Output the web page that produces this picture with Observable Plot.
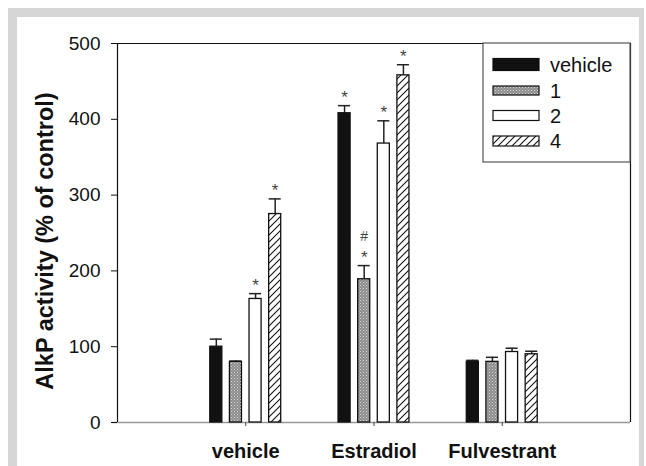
<!DOCTYPE html>
<html>
<head>
<meta charset="utf-8">
<script src="https://cdn.jsdelivr.net/npm/d3@7"></script>
<script src="https://cdn.jsdelivr.net/npm/@observablehq/plot@0.6"></script>
<style>
  html, body { margin: 0; padding: 0; background: white; }
  #wrap { position: relative; width: 646px; height: 466px; overflow: hidden; background: white; }
  #border { position: absolute; left: 8px; top: 8px; width: 622px; height: 470px;
            border-left: 9px solid #d6d6d6; border-top: 9px solid #d6d6d6; border-right: 5px solid #d6d6d6; }
  #chart { position: absolute; left: 0; top: 0; }
</style>
</head>
<body>
<div id="wrap"><div id="border"></div><div id="chart"></div></div>
<script>
const groups = ["vehicle", "Estradiol", "Fulvestrant"];
const series = ["vehicle", "1", "2", "4"];
const vehicleMeans = [100, 408, 80];
const s1Means = [80, 189, 80];
const s2Means = [163, 368, 93];
const s4Means = [275, 458, 90];
const vehicleErr = [10, 10, 2];
const s1Err = [1, 18, 6];
const s2Err = [7, 30, 5];
const s4Err = [20, 14, 4];
const vehicleStar = [false, true, false];
const s1Star = [false, true, false];
const s2Star = [true, true, false];
const s4Star = [true, true, false];
const s1Hash = [false, true, false];
const yTicks = [0, 100, 200, 300, 400, 500];
const yLabel = "AlkP activity (% of control)";

const means = [vehicleMeans, s1Means, s2Means, s4Means];
const errs = [vehicleErr, s1Err, s2Err, s4Err];
const stars = [vehicleStar, s1Star, s2Star, s4Star];
const hashes = [[false,false,false], s1Hash, [false,false,false], [false,false,false]];

const step = 0.153, hw = 0.047;
const data = [];
series.forEach((s, si) => groups.forEach((g, gi) => {
  const c = gi + 1 + (si - 1.5) * step;
  data.push({series: s, group: g, c, mean: means[si][gi], err: errs[si][gi],
             star: stars[si][gi], hash: hashes[si][gi]});
}));

const fills = ["#111", "url(#dots)", "white", "url(#hatch)"];

const plot = Plot.plot({
  width: 646, height: 466,
  marginLeft: 117, marginRight: 16, marginTop: 43, marginBottom: 44,
  style: {fontFamily: "'Liberation Sans', Arial, sans-serif", background: "transparent", color: "#111"},
  x: {domain: [0, 4], axis: null},
  y: {domain: [0, 500], axis: null},
  color: {domain: series, range: fills},
  marks: [
    Plot.ruleY([0], {stroke: "#999", strokeWidth: 1.5, insetLeft: -5}),
    Plot.ruleY([500], {stroke: "#111", strokeWidth: 1.2}),
    Plot.ruleX([0], {stroke: "#111", strokeWidth: 1.2}),
    Plot.ruleX([4], {stroke: "#111", strokeWidth: 1.2}),
    Plot.axisY({ticks: yTicks, tickSize: 6, tickPadding: 11, fontSize: 19, label: null, stroke: "#111"}),
    Plot.axisX({ticks: [1, 2, 3], tickFormat: d => groups[d - 1], tickSize: 4, tickPadding: 17,
                fontSize: 20, fontWeight: "bold", label: null, stroke: "#444"}),
    Plot.ruleX(data, {x: "c", y1: "mean", y2: d => d.mean + d.err, stroke: "#222", strokeWidth: 1.5}),
    Plot.ruleY(data, {y: d => d.mean + d.err, x1: d => d.c - hw, x2: d => d.c + hw, stroke: "#222", strokeWidth: 1.5}),
    Plot.rectY(data, {x1: d => d.c - hw, x2: d => d.c + hw, y1: 0, y2: "mean", fill: "series",
                      stroke: "#111", strokeWidth: 1.3}),
    Plot.text(data.filter(d => d.star), {x: "c", y: d => d.mean + d.err, text: () => "*",
              lineAnchor: "bottom", dy: -3, fontSize: 17, fill: "#444"}),
    Plot.text(data.filter(d => d.hash), {x: "c", y: d => d.mean + d.err, text: () => "#",
              lineAnchor: "bottom", dy: -25, fontSize: 14, fill: "#444"})
  ]
});

const svg = d3.select(plot);
const defs = svg.insert("defs", ":first-child");
const dots = defs.append("pattern").attr("id", "dots").attr("patternUnits", "userSpaceOnUse")
  .attr("width", 3).attr("height", 3);
dots.append("rect").attr("width", 3).attr("height", 3).attr("fill", "#8c8c8c");
dots.append("rect").attr("x", 0).attr("y", 0).attr("width", 1).attr("height", 1).attr("fill", "#d8d8d8");
dots.append("rect").attr("x", 1.5).attr("y", 1.5).attr("width", 1).attr("height", 1).attr("fill", "#c8c8c8");
const hatch = defs.append("pattern").attr("id", "hatch").attr("patternUnits", "userSpaceOnUse")
  .attr("width", 7).attr("height", 7);
hatch.append("rect").attr("width", 7).attr("height", 7).attr("fill", "white");
hatch.append("path").attr("d", "M-1,8 L8,-1 M-4,4 L4,-4 M3,11 L11,3").attr("stroke", "#111").attr("stroke-width", 1.1);

// y label
svg.append("text").attr("transform", "translate(53,241) rotate(-90)")
  .attr("text-anchor", "middle").attr("font-size", 23.5).attr("font-weight", "bold")
  .attr("fill", "#111").text(yLabel);

// legend
const xs = plot.scale("x"), ys = plot.scale("y");
const fx1 = xs.range[1], fy0 = ys.range[1];
const lg = svg.append("g").attr("text-anchor", "start");
lg.append("rect").attr("x", fx1 - 147).attr("y", fy0).attr("width", 147).attr("height", 119)
  .attr("fill", "white").attr("stroke", "#555").attr("stroke-width", 1.2);
const rowOff = [21.5, 47.5, 72.5, 98];
const swH = [12, 9, 10, 10];
series.forEach((s, i) => {
  const cy = fy0 + rowOff[i];
  lg.append("rect").attr("x", fx1 - 137).attr("y", cy - swH[i] / 2).attr("width", 46).attr("height", swH[i])
    .attr("fill", fills[i]).attr("stroke", "#111").attr("stroke-width", 1.2);
  lg.append("text").attr("x", fx1 - 80).attr("y", cy + 7).attr("text-anchor", "start")
    .attr("font-size", 20).attr("fill", "#111").text(s);
});

document.getElementById("chart").appendChild(plot);
</script>
</body>
</html>
